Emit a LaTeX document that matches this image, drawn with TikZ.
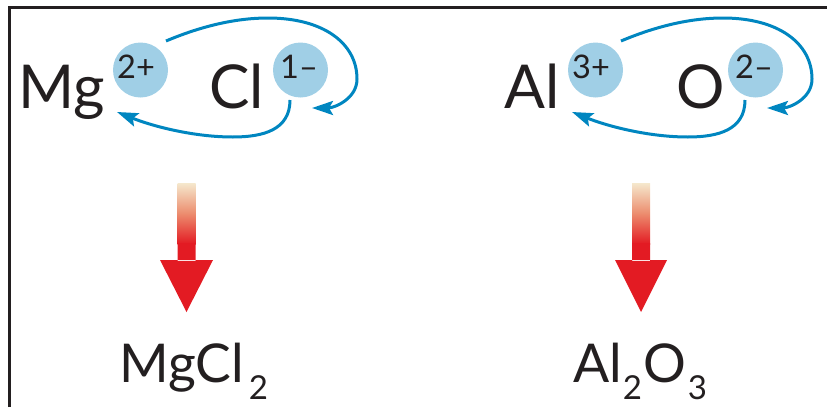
\documentclass[tikz,border=0pt]{standalone}
\usepackage{fontspec}
\setmainfont{Lato}
\usetikzlibrary{arrows.meta,calc}
\definecolor{ionblue}{RGB}{160,207,230}
\definecolor{arrowblue}{RGB}{0,134,192}
\definecolor{inkblack}{RGB}{35,31,32}
\definecolor{arrowred}{RGB}{227,27,35}
\definecolor{cream}{RGB}{245,232,205}
\tikzset{
  ion/.style={circle,fill=ionblue,minimum size=55pt,inner sep=0pt},
  charge/.style={anchor=base west,inner sep=0pt,text=inkblack,font=\fontsize{32.5}{33}\selectfont},
  elem/.style={anchor=base west,inner sep=0pt,text=inkblack,font=\fontsize{60.5}{62}\selectfont},
  prod/.style={anchor=base west,inner sep=0pt,text=inkblack,font=\fontsize{53.5}{55}\selectfont},
  transfer/.style={draw=arrowblue,line width=3pt,-{Stealth[length=21pt,width=14pt,inset=4pt]}},
}
\newcommand{\sbs}[1]{\raisebox{-17.5pt}{\fontsize{33}{33}\selectfont #1}}
\begin{document}
\begin{tikzpicture}[x=1pt,y=-1pt]
\useasboundingbox (0,0) rectangle (827,407);
\draw[line width=2.5pt,inkblack] (9.7,407) -- (9.7,7.7) -- (827,7.7);

% ---- Mg / Cl pair ----
\node[ion] (c1) at (140.5,70) {};
\node[ion] (c2) at (300.5,70) {};
\node[charge] (q1) at (117,78.3) {2+};
\node[charge] (q2) at (280,78.3) {1–};
\node[elem] (mg) at (18,108.5) {Mg};
\node[elem] (cl) at (209,108.5) {Cl};

\coordinate (a1s) at ($(c1)+(25.5,-29)$);
\coordinate (a1t) at ($(c2)+(-32.5,-52)$);
\coordinate (a1r) at ($(c2)+(56.5,9)$);
\coordinate (a1e) at ($(c2)+(11.5,38)$);
\draw[transfer] (a1s) .. controls ($(a1s)+(38,-16)$) and ($(a1t)+(-30,0)$) .. (a1t)
  .. controls ($(a1t)+(55,0)$) and ($(a1r)+(0,-36)$) .. (a1r)
  .. controls ($(a1r)+(0,20)$) and ($(a1e)+(22,0)$) .. (a1e);

\coordinate (a2s) at ($(c2)+(-10.5,30)$);
\coordinate (a2b) at ($(c2)+(-67.5,67)$);
\coordinate (a2e) at ($(c1)+(-23.5,42)$);
\draw[transfer] (a2s) .. controls ($(a2s)+(0,30)$) and ($(a2b)+(30,0)$) .. (a2b)
  .. controls ($(a2b)+(-40,0)$) and ($(a2e)+(35,14)$) .. (a2e);

% ---- Al / O pair ----
\node[ion] (c3) at (595.5,70) {};
\node[ion] (c4) at (755.5,70) {};
\node[charge] (q3) at (572,78.3) {3+};
\node[charge] (q4) at (735,78.3) {2–};
\node[elem] (al) at (504,108.5) {Al};
\node[elem] (ox) at (676,108.5) {O};

\coordinate (b1s) at ($(c3)+(25.5,-29)$);
\coordinate (b1t) at ($(c4)+(-32.5,-52)$);
\coordinate (b1r) at ($(c4)+(56.5,9)$);
\coordinate (b1e) at ($(c4)+(11.5,38)$);
\draw[transfer] (b1s) .. controls ($(b1s)+(38,-16)$) and ($(b1t)+(-30,0)$) .. (b1t)
  .. controls ($(b1t)+(55,0)$) and ($(b1r)+(0,-36)$) .. (b1r)
  .. controls ($(b1r)+(0,20)$) and ($(b1e)+(22,0)$) .. (b1e);

\coordinate (b2s) at ($(c4)+(-10.5,30)$);
\coordinate (b2b) at ($(c4)+(-67.5,67)$);
\coordinate (b2e) at ($(c3)+(-23.5,42)$);
\draw[transfer] (b2s) .. controls ($(b2s)+(0,30)$) and ($(b2b)+(30,0)$) .. (b2b)
  .. controls ($(b2b)+(-40,0)$) and ($(b2e)+(35,14)$) .. (b2e);

% ---- reaction arrows ----
\shade[top color=cream,bottom color=arrowred,middle color={rgb,255:red,236;green,140;blue,110}] (177.5,183) rectangle (195.5,244);
\fill[arrowred] (177.5,243) rectangle (195.5,261) (160,260) -- (213,260) -- (186.5,312) -- cycle;
\shade[top color=cream,bottom color=arrowred,middle color={rgb,255:red,236;green,140;blue,110}] (632,183) rectangle (650,244);
\fill[arrowred] (632,243) rectangle (650,261) (615,260) -- (667,260) -- (641,312) -- cycle;

% ---- products ----
\node[prod] (p1) at (119,382) {MgCl\kern5pt\sbs{2}};
\node[prod] (p2) at (573,382) {Al\kern1pt\sbs{2}\kern1ptO\kern2pt\sbs{3}};
\end{tikzpicture}
\end{document}
